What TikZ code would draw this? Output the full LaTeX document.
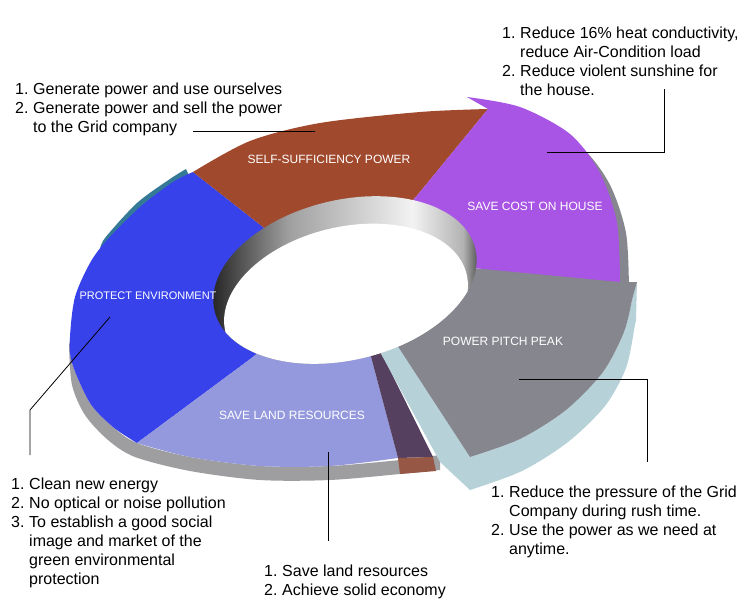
\documentclass[tikz,border=0pt]{standalone}
\usepackage{fontspec}
\setmainfont{Liberation Sans}
\usepackage{tikz}
\usepackage{xcolor}
\usetikzlibrary{calc, positioning}

\definecolor{slbrown}{RGB}{160,73,45}
\definecolor{slblue}{RGB}{56,66,234}
\definecolor{slpurple}{RGB}{168,84,228}
\definecolor{slgray}{RGB}{134,134,142}
\definecolor{sllav}{RGB}{148,153,222}
\definecolor{sldark}{RGB}{86,64,96}
\definecolor{slteal}{RGB}{52,122,150}
\definecolor{slface}{RGB}{182,210,216}
\definecolor{slblock}{RGB}{150,88,68}
\definecolor{slside}{RGB}{158,158,160}

% inner wall of the hole
\pgfdeclarehorizontalshading{wallshade}{100bp}{color(0bp)=(black!90); color(25bp)=(black!90); color(40bp)=(gray!75); color(62bp)=(gray!10); color(71bp)=(gray!60); color(75bp)=(black!85); color(100bp)=(black!85)}

\newcommand{\itemno}[1]{\makebox[18pt][l]{#1}}
\newcommand{\itemind}{\hspace*{18pt}}

\tikzset{
  note/.style={anchor=north west, inner sep=0pt, align=left, font=\fontsize{16}{19}\selectfont},
  tag/.style={text=white, inner sep=0pt, font=\fontsize{12}{14}\selectfont},
  leader/.style={black, line width=0.8pt},
}

\begin{document}
\begin{tikzpicture}[x=1pt, y=-1pt]
  \useasboundingbox (0,0) rectangle (750,615);
  \fill[white] (0,0) rectangle (750,615);
  % side of the ring
  \fill[slside] plot[smooth] coordinates {(70,340) (72,363) (90,403) (113,427) (137,443) (190,457) (260,466) (330,466) (400,460) (440,455)} -- plot[smooth] coordinates {(440,470) (400,474) (330,480) (260,480) (190,471) (135,457) (108,440) (85,415) (72,385) (69,345)} -- cycle;
  % teal sliver
  \fill[slteal] plot[smooth] coordinates {(186,169) (170,179) (137,203) (105,238) (100,250)} -- (112,250) -- (190,178) -- cycle;
  % slices on the ring
  \fill[slblue] (345,280) -- (263,227) -- plot[smooth] coordinates {(193,172) (173,182) (140,207) (107,240) (90,263) (75,297) (70,337) (72,363) (90,403) (113,427) (137,443)} -- (253,357) -- cycle;
  \fill[slbrown] (345,280) -- (420,192) -- plot[smooth] coordinates {(488,109) (420,112) (320,123) (250,141) (193,172)} -- (263,227) -- cycle;
  \fill[sllav] (345,280) -- (253,357) -- plot[smooth] coordinates {(137,443) (190,457) (260,466) (330,466) (398,458)} -- (370,353) -- cycle;
  \fill[sldark] (370,353) -- (380,350) -- (433,457) -- (398,458) -- cycle;
  \fill[slblock] (398,458) -- (433,457) -- (436,471) -- (400,474) -- cycle;
  % pulled out slice
  \fill[slface] (470,457) -- plot[smooth] coordinates {(470,457) (520,439) (566,410) (603,372) (624,332) (632,300)} -- (637,282) -- (636,320) -- plot[smooth] coordinates {(634,330) (626,368) (605,406) (568,442) (522,471) (470,490)} -- cycle;
  \fill[slface] (380,352) -- (397,345) -- (470,457) -- (470,490) -- (440,462) -- cycle;
  \fill[slgray] (345,280) -- (473,268) -- (620,282) -- (637,282) -- plot[smooth] coordinates {(632,300) (624,332) (603,372) (566,410) (520,439) (470,457)} -- (397,345) -- cycle;
  % raised slice
  \fill[slgray, shift={(9,10)}] plot[smooth] coordinates {(520,108) (570,135) (600,173) (617,223) (620,282)} -- (473,268) -- cycle;
  \fill[slpurple] (345,280) -- (420,192) -- (488,109) -- plot[smooth] coordinates {(467,97) (520,107) (570,134) (600,173) (617,223) (620,282)} -- (473,268) -- cycle;
  % hole
  \begin{scope}
    \clip[rotate around={13.4:(345,280)}] (345,280) ellipse [x radius=134pt, y radius=80pt];
    \shade[shading=wallshade, rotate around={13.4:(345,280)}] (345,280) ellipse [x radius=134pt, y radius=80pt];
    \fill[white, rotate around={13.4:(346,303)}] (346,303) ellipse [x radius=124pt, y radius=76pt];
  \end{scope}
  % slice names
  \node[tag] (selfpower) at (329,159) {SELF-SUFFICIENCY POWER};
  \node[tag] (savecost) at (535,206) {SAVE COST ON HOUSE};
  \node[tag, font=\fontsize{11}{13}\selectfont] (protect) at (148,296) {PROTECT ENVIRONMENT};
  \node[tag] (pitchpeak) at (503,341) {POWER PITCH PEAK};
  \node[tag] (saveland) at (292,415) {SAVE LAND RESOURCES};
  % leader lines
  \coordinate (selfA) at (315,131);
  \coordinate (selfB) at (193,131);
  \coordinate (costA) at (547,152);
  \coordinate (costB) at (664,152);
  \coordinate (costC) at (664,89);
  \coordinate (protA) at (110,317);
  \coordinate (protB) at (30,410);
  \coordinate (protC) at (30,455);
  \coordinate (landA) at (328,452);
  \coordinate (landB) at (328,541);
  \coordinate (peakA) at (519,379);
  \coordinate (peakB) at (647,379);
  \coordinate (peakC) at (647,462);
  \draw[leader] (selfA) -- (selfB);
  \draw[leader] (costA) -- (costB) -- (costC);
  \draw[leader] (protA) -- (protB) -- (protC);
  \draw[leader] (landA) -- (landB);
  \draw[leader] (peakA) -- (peakB) -- (peakC);
  % notes
  \node[note] (noteself) at (15,83) {\itemno{1.}Generate power and use ourselves\\ \itemno{2.}Generate power and sell the power\\ \itemind to the Grid company};
  \node[note] (notecost) at (502,27) {\itemno{1.}Reduce 16\% heat conductivity,\\ \itemind reduce Air-Condition load\\ \itemno{2.}Reduce violent sunshine for\\ \itemind the house.};
  \node[note] (noteprot) at (11,478) {\itemno{1.}Clean new energy\\ \itemno{2.}No optical or noise pollution\\ \itemno{3.}To establish a good social\\ \itemind image and market of the\\ \itemind green environmental\\ \itemind protection};
  \node[note] (noteland) at (264,565) {\itemno{1.}Save land resources\\ \itemno{2.}Achieve solid economy};
  \node[note] (notepeak) at (491,486) {\itemno{1.}Reduce the pressure of the Grid\\ \itemind Company during rush time.\\ \itemno{2.}Use the power as we need at\\ \itemind anytime.};
\end{tikzpicture}
\end{document}
